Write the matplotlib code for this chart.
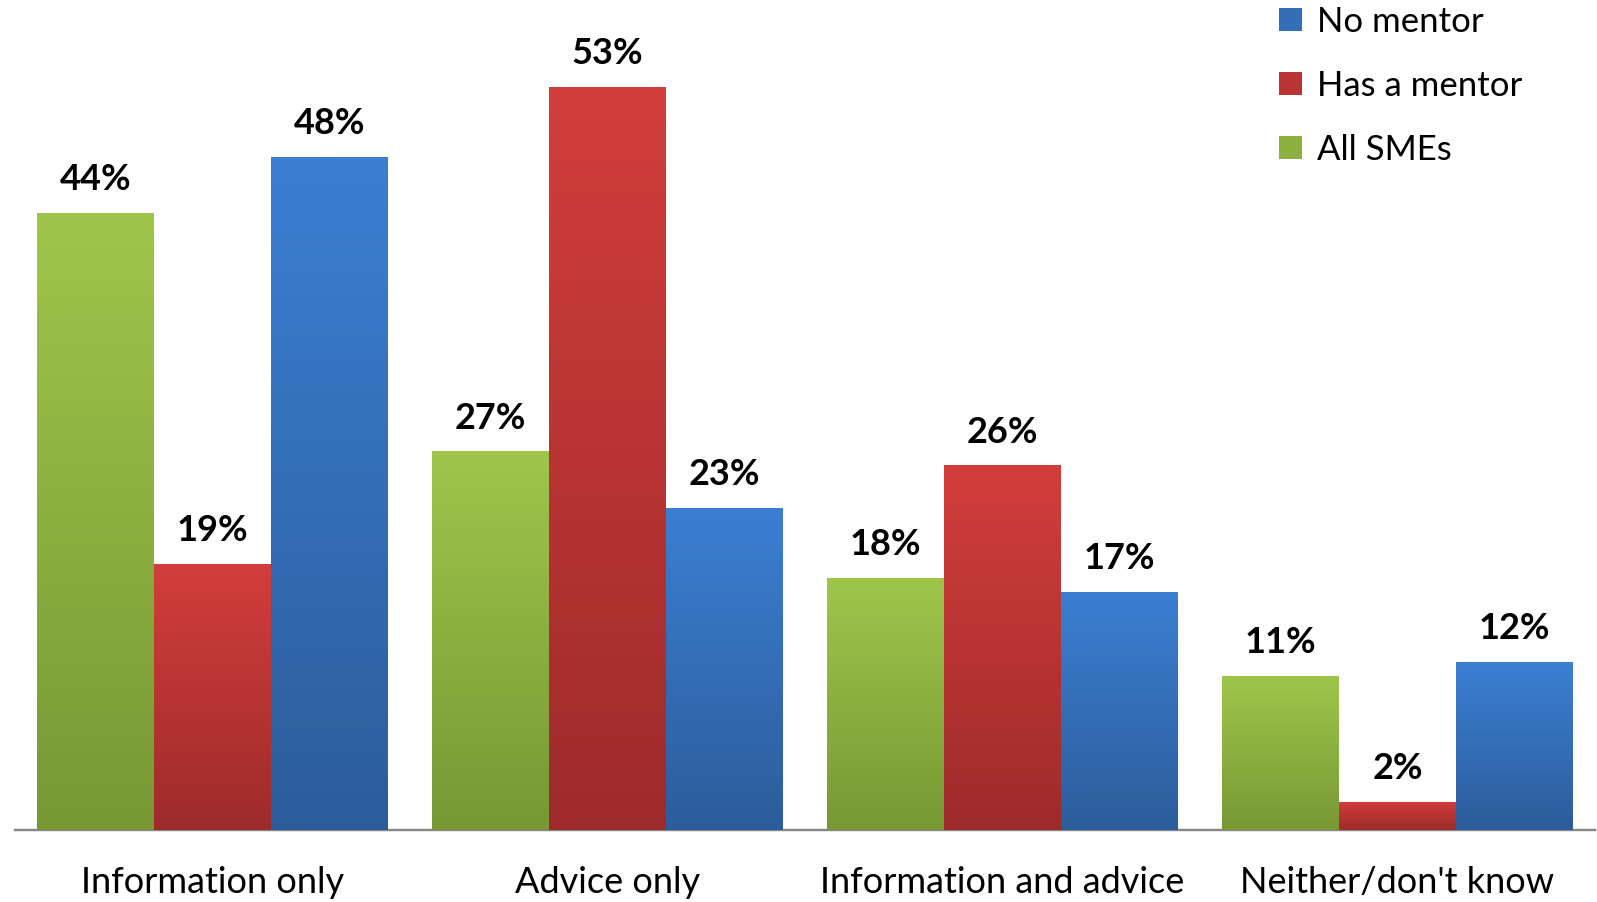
import matplotlib.pyplot as plt
import numpy as np
from matplotlib.colors import LinearSegmentedColormap

plt.rcParams['font.family'] = ['Lato', 'DejaVu Sans']

categories = ["Information only", "Advice only", "Information and advice", "Neither/don't know"]
series_names = ["All SMEs", "Has a mentor", "No mentor"]
all_smes = [44, 27, 18, 11]
has_mentor = [19, 53, 26, 2]
no_mentor = [48, 23, 17, 12]

# top colour, bottom colour for each series
shades = [("#9fc64b", "#789834"),
          ("#d23e3b", "#9e2b2b"),
          ("#3b7fd2", "#2c5d9b")]

fig = plt.figure(figsize=(15.97, 9.02), dpi=100)
ax = fig.add_axes([15 / 1597, 72 / 902, 1580 / 1597, 830 / 902])

width = 0.296
x = np.arange(len(categories))
gradient = np.linspace(0, 1, 256).reshape(-1, 1)

for k, (name, vals) in enumerate(zip(series_names, [all_smes, has_mentor, no_mentor])):
    top, bottom = shades[k]
    cmap = LinearSegmentedColormap.from_list(name, [bottom, top])
    bars = ax.bar(x + (k - 1) * width, vals, width, color=cmap(0.5), label=name, zorder=2)
    for b, v in zip(bars, vals):
        x0, y0 = b.get_x(), b.get_y()
        img = ax.imshow(gradient, cmap=cmap, aspect='auto', origin='lower',
                        extent=(x0, x0 + b.get_width(), y0, y0 + b.get_height()), zorder=3)
        img.set_clip_path(b)
        ax.annotate(f"{v}%", (x0 + b.get_width() / 2, v), xytext=(0, 12),
                    textcoords='offset points', ha='center', va='bottom',
                    fontsize=26, fontweight='bold', zorder=4)

ax.set_xlim(-0.5, 3.5)
ax.set_ylim(0, 59.2)
ax.set_xticks(x)
ax.set_xticklabels(categories, fontsize=26)
ax.tick_params(axis='x', length=0, pad=26)
ax.set_yticks([])
for side in ['top', 'right', 'left']:
    ax.spines[side].set_visible(False)
ax.spines['bottom'].set_color('#878787')
ax.spines['bottom'].set_linewidth(1.75)

handles, labels = ax.get_legend_handles_labels()
ax.legend(handles[::-1], labels[::-1], loc='upper left', bbox_to_anchor=(1248 / 1597, 1.028),
          bbox_transform=fig.transFigure, frameon=False, fontsize=25,
          handlelength=0.65, handleheight=0.65, handletextpad=0.45, labelspacing=0.92)

fig.savefig("out.png", dpi=100)
